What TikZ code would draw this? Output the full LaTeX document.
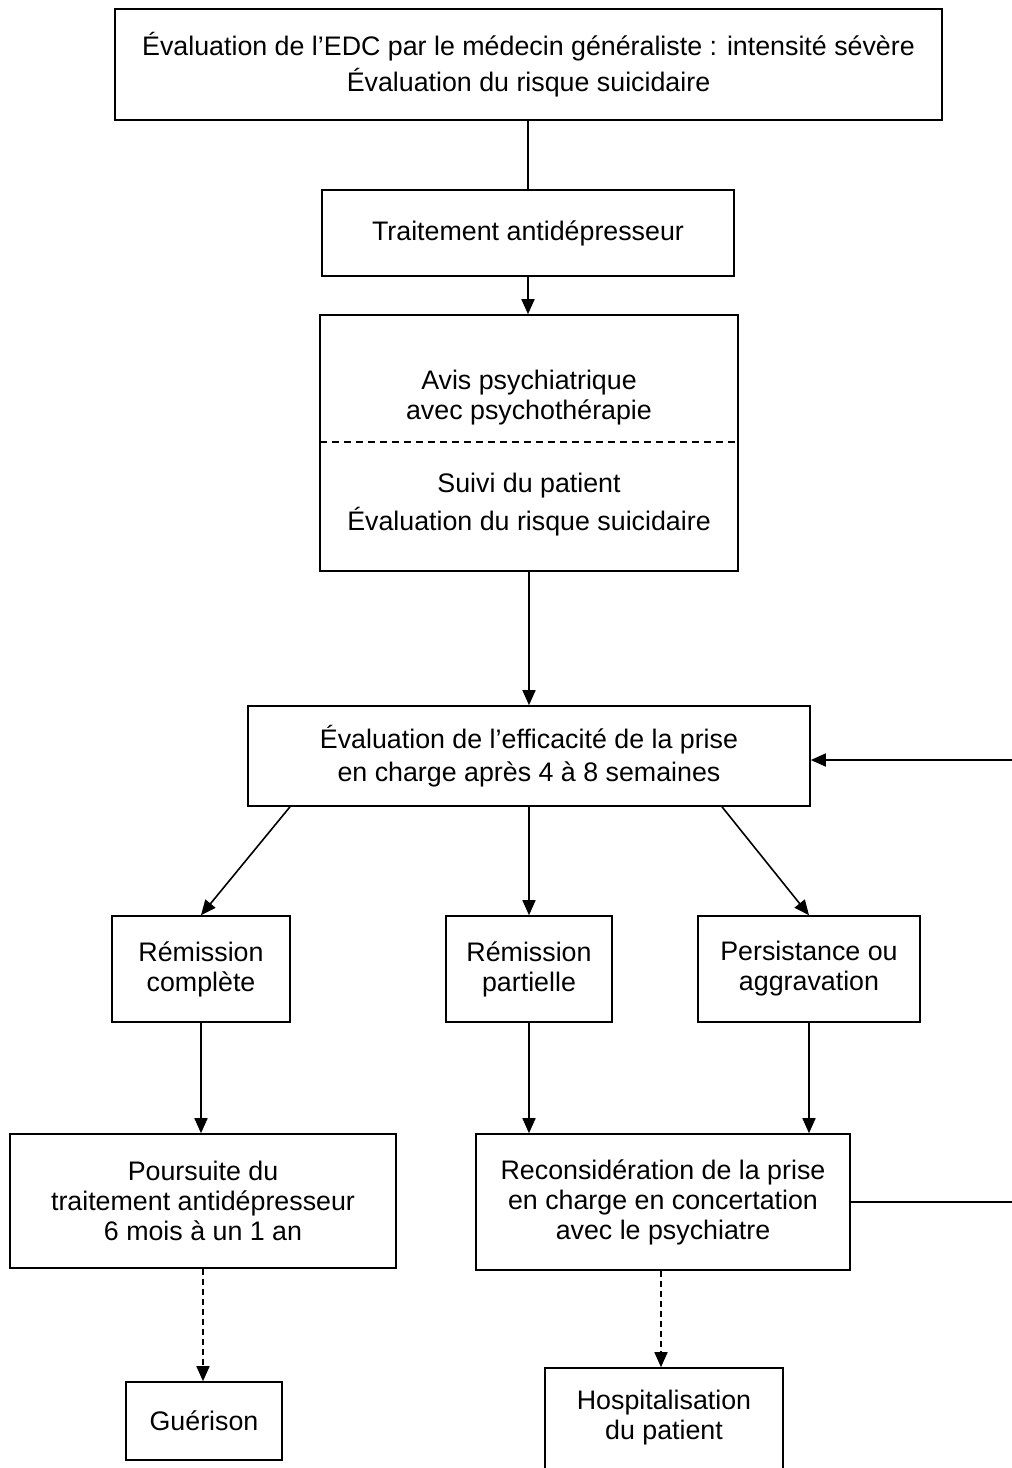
\documentclass[tikz,border=0pt]{standalone}
\usepackage{fontspec}
\setmainfont{Liberation Sans}
\usetikzlibrary{arrows.meta}
\tikzset{
  box/.style={draw, line width=1.6pt, inner sep=0pt, align=center, font=\fontsize{26.8}{30}\selectfont},
  txt/.style={inner sep=0pt, align=center, font=\fontsize{26.8}{30}\selectfont},
  conn/.style={line width=1.6pt},
  arr/.style={line width=1.6pt, -{Triangle[length=15pt,width=13pt]}},
  dasharr/.style={arr, dash pattern=on 6pt off 4pt},
  sepline/.style={line width=1.4pt, dash pattern=on 7pt off 5pt}
}
\begin{document}
\begin{tikzpicture}[x=1pt,y=-1pt]
\useasboundingbox (0,0) rectangle (1012,1468);
\node[box, minimum width=827, minimum height=111] (b1) at (528.5,64.5)
  {Évaluation de l’EDC par le médecin généraliste : intensité sévère\\[6pt]Évaluation du risque suicidaire};
\node[box, minimum width=412, minimum height=86] (b2) at (528,233) {Traitement antidépresseur};
\node[box, minimum width=418, minimum height=256] (b3) at (529,443) {};
\node[txt] (t3a) at (529,398) {Avis psychiatrique\\avec psychothérapie};
\node[txt] (t3b) at (529,505) {Suivi du patient\\[8pt]Évaluation du risque suicidaire};
\coordinate (dl) at (320,442);
\coordinate (dr) at (738,442);
\draw[sepline] (dl) -- (dr);
\node[box, minimum width=562, minimum height=100] (b4) at (529,756)
  {Évaluation de l’efficacité de la prise\\[3pt]en charge après 4 à 8 semaines};
\node[box, minimum width=178, minimum height=106] (b5a) at (201,969) {Rémission\\complète};
\node[box, minimum width=166, minimum height=106] (b5b) at (529,969) {Rémission\\partielle};
\node[box, minimum width=222, minimum height=106] (b5c) at (809,969) {Persistance ou\\aggravation};
\node[box, minimum width=386, minimum height=134] (b6a) at (203,1201)
  {Poursuite du\\traitement antidépresseur\\6 mois à un 1 an};
\node[box, minimum width=374, minimum height=136] (b6b) at (663,1202)
  {Reconsidération de la prise\\en charge en concertation\\avec le psychiatre};
\node[box, minimum width=156, minimum height=78] (b7a) at (204,1421) {Guérison};
\node[box, minimum width=238, minimum height=120] (b7b) at (664,1428) {};
\node[txt] (t7b) at (664,1418) {Hospitalisation\\du patient};
% connectors
\draw[conn] (b1.south -| b2.north) -- (b2.north);
\draw[arr] (b2.south) -- (b2.south |- b3.north);
\draw[arr] (b3.south) -- (b3.south |- b4.north);
\draw[arr] ([xshift=-239pt]b4.south) -- (b5a.north);
\draw[arr] (b4.south) -- (b5b.north);
\draw[arr] ([xshift=193pt]b4.south) -- (b5c.north);
\draw[arr] (b5a.south) -- (b5a.south |- b6a.north);
\draw[arr] (b5b.south) -- (b5b.south |- b6b.north);
\draw[arr] (b5c.south) -- (b5c.south |- b6b.north);
\draw[dasharr] (b6a.south) -- (b6a.south |- b7a.north);
\draw[dasharr] ([xshift=-2pt]b6b.south) -- ([xshift=-2pt]b6b.south |- b7b.north);
\coordinate (fr1) at (1016,1202);
\coordinate (fr2) at (1016,760);
\draw[arr] (b6b.east) -- (fr1) -- (fr2) -- (b4.east |- fr2);
\end{tikzpicture}
\end{document}
